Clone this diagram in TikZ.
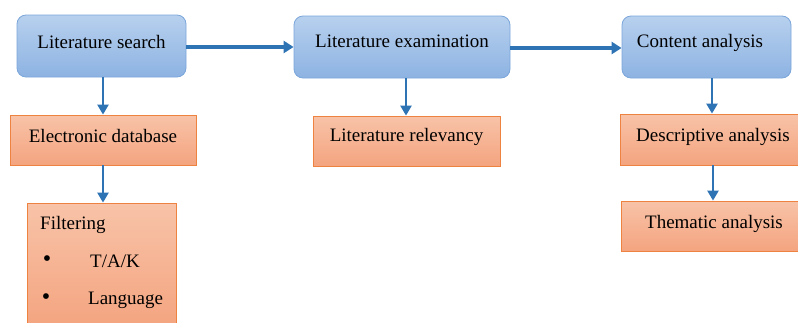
\documentclass[tikz,border=0pt]{standalone}
\usepackage{fontspec}
\setmainfont{Liberation Serif}
\usetikzlibrary{arrows.meta}
\definecolor{bluetop}{HTML}{B7D0EE}
\definecolor{bluebot}{HTML}{8DB3E2}
\definecolor{blueedge}{HTML}{7BA6DA}
\definecolor{orgtop}{HTML}{F8C3A8}
\definecolor{orgbot}{HTML}{F4A47F}
\definecolor{orgedge}{HTML}{EE8240}
\definecolor{arrowblue}{HTML}{2E74B5}
\tikzset{
  bluebox/.style={draw=blueedge, line width=0.8pt, rounded corners=9pt, top color=bluetop, bottom color=bluebot, inner sep=0pt},
  orgbox/.style={draw=orgedge, line width=0.8pt, top color=orgtop, bottom color=orgbot, inner sep=0pt},
  lbl/.style={font=\fontsize{19}{21}\selectfont, inner sep=0pt, text=black},
  flow/.style={draw=arrowblue, line width=3.2pt, -{Triangle[length=10pt,width=12pt]}},
  drop/.style={draw=arrowblue, line width=2.4pt, -{Triangle[length=10pt,width=11pt]}}
}
\begin{document}
\begin{tikzpicture}[x=1pt,y=-1pt]
\useasboundingbox (0,0) rectangle (798,322);
\clip (0,0) rectangle (798,322);
% top row
\node[bluebox, minimum width=169pt, minimum height=62pt] (ls) at (101.5,46) {};
\node[bluebox, minimum width=216pt, minimum height=62pt] (le) at (402,47) {};
\node[bluebox, minimum width=169pt, minimum height=62pt] (ca) at (706.5,47) {};
\node[lbl] (lst) at (101.5,41.5) {Literature search};
\node[lbl] (let) at (402,41.5) {Literature examination};
\node[lbl] (cat) at (700,42.5) {Content analysis};
% second row
\node[orgbox, minimum width=186pt, minimum height=50pt] (ed) at (103,140) {};
\node[lbl] (edt) at (103,136) {Electronic database};
\node[orgbox, minimum width=187pt, minimum height=50pt] (lr) at (406.5,141) {};
\node[lbl] (lrt) at (406.5,137) {Literature relevancy};
\node[orgbox, minimum width=182pt, minimum height=51pt] (da) at (711,139.5) {};
\node[lbl] (dat) at (713,136.5) {Descriptive analysis};
% third row
\node[orgbox, minimum width=149pt, minimum height=125pt] (fi) at (101.5,265.5) {};
\node[lbl, anchor=west] (fit) at (40,224.5) {Filtering};
\node[lbl, font=\fontsize{24}{24}\selectfont] (b1) at (47,261) {\textbullet};
\node[lbl, anchor=west] (tak) at (90,261.5) {T/A/K};
\node[lbl, font=\fontsize{24}{24}\selectfont] (b2) at (46,299) {\textbullet};
\node[lbl, anchor=west] (lang) at (88,300) {Language};
\node[orgbox, minimum width=180pt, minimum height=50pt] (ta) at (711,226) {};
\node[lbl] (tat) at (714,223.5) {Thematic analysis};
% arrows
\draw[flow] (ls.east |- 0,47) -- (le.west |- 0,47);
\draw[flow] (le.east |- 0,48) -- (ca.west |- 0,48);
\draw[drop] (ls.south -| 103,0) -- (ed.north -| 103,0);
\draw[drop] (ed.south -| 103,0) -- (fi.north -| 103,0);
\draw[drop] (le.south -| 406,0) -- (lr.north -| 406,0);
\draw[drop] (ca.south -| 712,0) -- (da.north -| 712,0);
\draw[drop] (da.south -| 713,0) -- (ta.north -| 713,0);
\end{tikzpicture}
\end{document}
